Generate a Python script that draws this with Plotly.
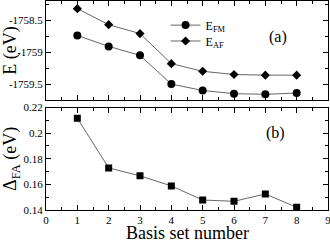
import plotly.graph_objects as go

basis = [1, 2, 3, 4, 5, 6, 7, 8]
e_fm = [-1758.74, -1758.91, -1759.05, -1759.50, -1759.60, -1759.65, -1759.66, -1759.64]
e_af = [-1758.32, -1758.57, -1758.71, -1759.18, -1759.30, -1759.35, -1759.36, -1759.36]
delta_fa = [0.2117, 0.1729, 0.1667, 0.1588, 0.1478, 0.1468, 0.1525, 0.1421]

FONT = "Liberation Serif"
LINE = "#666666"

fig = go.Figure()
fig.add_trace(go.Scatter(x=basis, y=e_fm, mode="lines+markers", name="E<sub>FM</sub>",
                         line=dict(color=LINE, width=1),
                         marker=dict(symbol="circle", size=8, color="black"),
                         xaxis="x", yaxis="y", legend="legend"))
fig.add_trace(go.Scatter(x=basis, y=e_af, mode="lines+markers", name="E<sub>AF</sub>",
                         line=dict(color=LINE, width=1),
                         marker=dict(symbol="diamond", size=7, color="black"),
                         xaxis="x", yaxis="y", legend="legend2"))
fig.add_trace(go.Scatter(x=basis, y=delta_fa, mode="lines+markers", showlegend=False,
                         line=dict(color=LINE, width=1),
                         marker=dict(symbol="square", size=7, color="black"),
                         xaxis="x2", yaxis="y2"))

axis_common = dict(showline=True, linecolor="black", linewidth=1, mirror="ticks",
                   ticks="inside", ticklen=5, tickcolor="black", showgrid=False,
                   zeroline=False, automargin=False, ticklabeloverflow="allow",
                   tickfont=dict(family=FONT, size=11, color="black"))

legend_common = dict(xanchor="left", yanchor="top", bgcolor="rgba(0,0,0,0)",
                     font=dict(family=FONT, size=12), itemwidth=30)

fig.update_layout(
    width=330, height=240,
    margin=dict(l=46, r=2, t=1, b=30),
    paper_bgcolor="white", plot_bgcolor="white",
    font=dict(family=FONT, color="black"),
    xaxis=dict(domain=[0, 1], range=[0, 9], dtick=1, showticklabels=False, anchor="y",
               minor=dict(dtick=0.5, ticks="inside", ticklen=3, tickcolor="black"),
               **axis_common),
    yaxis=dict(domain=[0.526, 1], range=[-1759.75, -1758.2], tickvals=[-1758.5, -1759, -1759.5],
               ticktext=["-1758.5", "-1759", "-1759.5"], anchor="x",
               minor=dict(dtick=0.25, ticks="inside", ticklen=3, tickcolor="black"),
               title=dict(text="E (eV)", font=dict(family=FONT, size=18)),
               **axis_common),
    xaxis2=dict(domain=[0, 1], range=[0, 9], dtick=1, anchor="y2",
                minor=dict(dtick=0.5, ticks="inside", ticklen=3, tickcolor="black"),
                **axis_common),
    yaxis2=dict(domain=[0, 0.49], range=[0.14, 0.22], anchor="x2",
                tickvals=[0.14, 0.16, 0.18, 0.2, 0.22], ticktext=["0.14", "0.16", "0.18", "0.2", "0.22"],
                minor=dict(dtick=0.01, ticks="inside", ticklen=3, tickcolor="black"),
                title=dict(text="Δ<sub>FA</sub> (eV)", font=dict(family=FONT, size=18)),
                **axis_common),
    legend=dict(x=0.424, y=0.954, **legend_common),
    legend2=dict(x=0.424, y=0.878, **legend_common),
    annotations=[
        dict(text="(a)", x=0.86, y=0.88, xref="paper", yref="paper", showarrow=False,
             font=dict(family=FONT, size=16)),
        dict(text="(b)", x=0.855, y=0.37, xref="paper", yref="paper", showarrow=False,
             font=dict(family=FONT, size=16)),
        dict(text="Basis set number", x=0.5, y=-0.108, xref="paper", yref="paper",
             xanchor="center", yanchor="middle", showarrow=False,
             font=dict(family=FONT, size=18)),
    ],
)

fig.write_html("out.html", config={"displayModeBar": False},
               post_script="document.body.style.margin='0';document.body.style.overflow='hidden';")
